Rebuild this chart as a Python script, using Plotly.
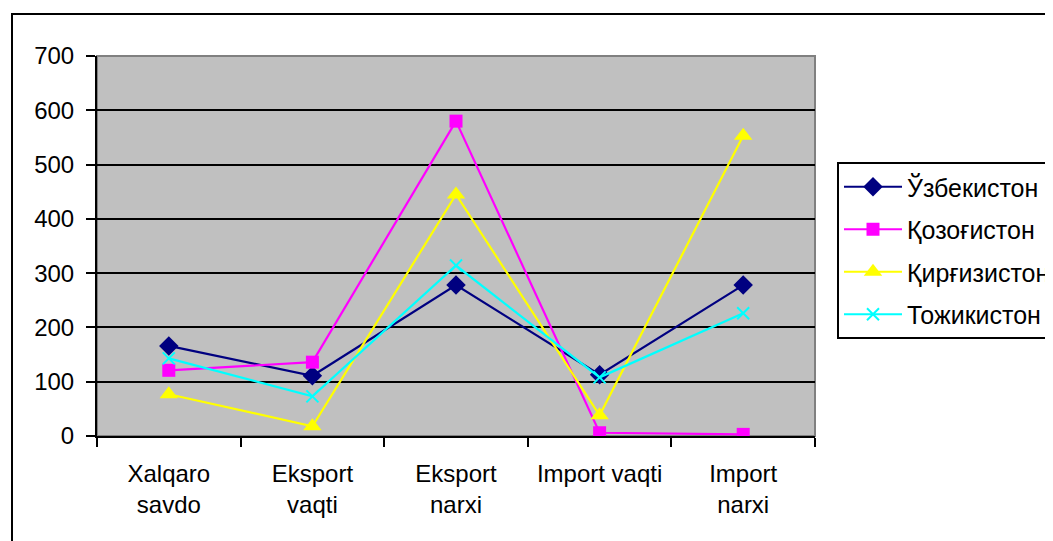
import plotly.graph_objects as go

categories = ["Xalqaro<br>savdo", "Eksport<br>vaqti", "Eksport<br>narxi", "Import vaqti", "Import<br>narxi"]
series_names = ["Ўзбекистон", "Қозоғистон", "Қирғизистон", "Тожикистон"]
uzbekistan = [166, 111, 278, 113, 278]
kazakhstan = [121, 136, 580, 6, 3]
kyrgyzstan = [77, 18, 445, 38, 553]
tajikistan = [143, 73, 314, 108, 226]
y_ticks = [0, 100, 200, 300, 400, 500, 600, 700]

colors = ["#000080", "#FF00FF", "#FFFF00", "#00FFFF"]
symbols = ["diamond", "square", "triangle-up", "x-thin"]
sizes = [15, 13, 16, 12]
values = [uzbekistan, kazakhstan, kyrgyzstan, tajikistan]

# page body has an 8px default margin, so positions are offset by 8
OFF = 8
W, H = 1053 - OFF, 541 - OFF
L, R, T, B = 97 - OFF, 815 - OFF, 56 - OFF, 436 - OFF

fig = go.Figure()
for i, name in enumerate(series_names):
    fig.add_trace(go.Scatter(
        x=categories, y=values[i], name=name, mode="lines+markers",
        legendgroup=f"g{i}",
        line=dict(color=colors[i], width=2.2),
        marker=dict(symbol=symbols[i], size=sizes[i], color=colors[i],
                    line=dict(color=colors[i], width=2 if i == 3 else 0)),
    ))

def px_x(px):
    return (px - OFF - L) / (R - L)

def px_y(py):
    return (B - (py - OFF)) / (B - T)

shapes = [
    dict(type="rect", xref="paper", yref="paper", x0=0, x1=1, y0=0, y1=1,
         line=dict(color="#808080", width=2), layer="below"),
    dict(type="rect", xref="paper", yref="paper",
         x0=px_x(12), x1=px_x(1080), y0=px_y(14), y1=px_y(620),
         line=dict(color="black", width=2), fillcolor="rgba(0,0,0,0)"),
]

font_family = "Liberation Sans, Arial, sans-serif"

fig.update_layout(
    width=W, height=H,
    margin=dict(l=L, r=W - R, t=T, b=H - B, pad=0, autoexpand=False),
    paper_bgcolor="white",
    plot_bgcolor="#C0C0C0",
    font=dict(family=font_family, size=24, color="black"),
    showlegend=True,
    legend=dict(
        x=px_x(837), y=px_y(162), xanchor="left", yanchor="top",
        xref="paper", yref="paper",
        bgcolor="white", bordercolor="black", borderwidth=2,
        font=dict(family=font_family, size=25, color="black"),
        itemwidth=58, tracegroupgap=7,
    ),
    xaxis=dict(
        type="category", tickson="boundaries", range=[-0.5, 4.5],
        showline=True, linecolor="black", linewidth=2,
        ticks="outside", ticklen=9, tickwidth=2, tickcolor="black",
        showgrid=False, zeroline=False, ticklabelstandoff=15,
        tickfont=dict(family=font_family, size=24, color="black"),
    ),
    yaxis=dict(
        range=[0, 700], tickvals=y_ticks, ticktext=[str(v) for v in y_ticks],
        showline=True, linecolor="black", linewidth=2,
        ticks="outside", ticklen=9, tickwidth=2, tickcolor="black",
        showgrid=True, gridcolor="black", gridwidth=2,
        zeroline=False, ticklabelstandoff=7,
        tickfont=dict(family=font_family, size=24, color="black"),
    ),
    shapes=shapes,
)

fig.write_html("out.html")
